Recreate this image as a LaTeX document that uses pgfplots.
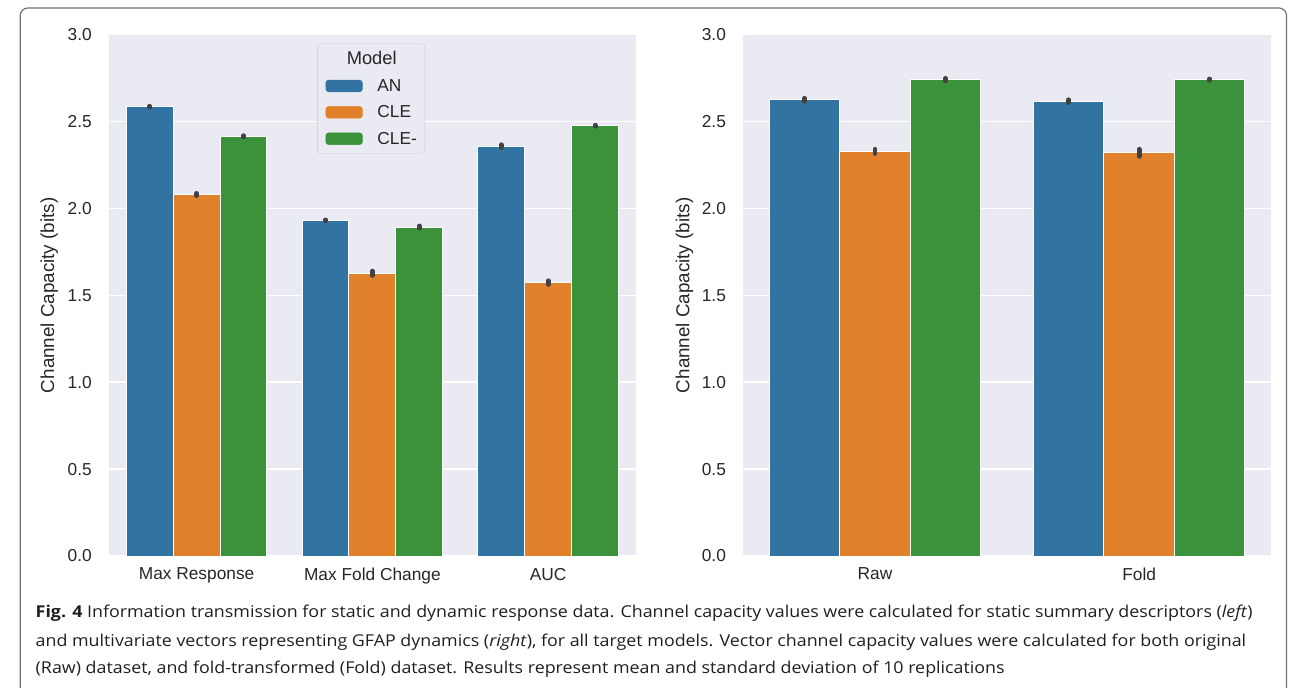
\documentclass[border=0pt]{standalone}
\usepackage{fontspec}
\setmainfont{Liberation Sans}
\newfontfamily\capfont{Open Sans}
\usepackage{graphicx}
\usepackage{pgfplots}
\usepackage{pgfplotstable}
\pgfplotsset{compat=1.18}
\definecolor{sbbg}{HTML}{EAEAF2}
\definecolor{cAN}{HTML}{3274A1}
\definecolor{cCLE}{HTML}{E1812C}
\definecolor{cCLEm}{HTML}{3A923A}
\definecolor{errc}{HTML}{424242}
\definecolor{txt}{HTML}{262626}
\definecolor{framec}{HTML}{707070}

\pgfplotstableread{
x AN ANe CLE CLEe CLEm CLEme
0 2.585 0.002 2.080 0.006 2.415 0.003
1 1.931 0.002 1.627 0.012 1.893 0.006
2 2.358 0.008 1.573 0.010 2.476 0.002
}\leftdata
\pgfplotstableread{
x AN ANe CLE CLEe CLEm CLEme
0 2.625 0.008 2.328 0.012 2.741 0.007
1 2.617 0.008 2.320 0.020 2.741 0.003
}\rightdata

\pgfplotsset{
 sb/.style={
  scale only axis, height=527pt,
  ymin=0, ymax=3, ytick={0,0.5,1,1.5,2,2.5,3},
  tick label style={font=\fontsize{17.5}{20}\selectfont, text=txt},
  yticklabel style={/pgf/number format/fixed, /pgf/number format/fixed zerofill,
     /pgf/number format/precision=1, /pgf/number format/assume math mode=true,
     inner sep=0pt, anchor=east, xshift=-17pt},
  xticklabel style={inner sep=0pt, anchor=north, yshift=-12pt},
  axis background/.style={fill=sbbg},
  axis line style={draw=none},
  major tick length=0pt,
  ymajorgrids, xmajorgrids=false,
  grid style={white, line width=1.6pt},
  label style={font=\fontsize{19}{22}\selectfont, text=txt},
  ylabel={Channel Capacity (bits)},
  clip=false,
 },
 sbbar/.style={ybar, bar width=0.2667, bar shift=0pt, fill=#1, draw=white, line width=1pt},
 sberr/.style={error bars/.cd, y dir=both, y explicit, error mark=none,
   error bar style={line width=5pt, line cap=round, draw=errc, solid}},
}

\begin{document}
\newsavebox\capA\newsavebox\capB\newsavebox\capC
\sbox\capA{\capfont\fontsize{16.5}{20}\selectfont\color{black!88}\textbf{Fig. 4} Information transmission for static and dynamic response data. Channel capacity values were calculated for static summary descriptors (\textit{left})}
\sbox\capB{\capfont\fontsize{16.5}{20}\selectfont\color{black!88}and multivariate vectors representing GFAP dynamics (\textit{right}), for all target models. Vector channel capacity values were calculated for both original}
\sbox\capC{\capfont\fontsize{16.5}{20}\selectfont\color{black!88}(Raw) dataset, and fold-transformed (Fold) dataset. Results represent mean and standard deviation of 10 replications}
\newlength\capw\setlength\capw{\wd\capA}
\pgfmathsetmacro\capsx{1230/\capw}
\begin{tikzpicture}
\useasboundingbox (0,0) rectangle (1290pt,-695pt);
\draw[framec, line width=1.2pt, rounded corners=8pt] (6.5pt,-700pt) -- (6.5pt,-8pt) -- (1286.5pt,-8pt) -- (1286.5pt,-700pt);

\begin{axis}[sb, width=533pt, at={(96pt,-562pt)}, anchor=south west,
  xmin=-0.5, xmax=2.5, xtick={0,1,2},
  xticklabels={Max Response, Max Fold Change, AUC},
  ylabel style={at={(axis description cs:-0.1126,0.5)}, anchor=center},
  legend style={at={(axis description cs:0.3959,0.9829)}, anchor=north west,
    fill=sbbg, draw=black!20, rounded corners=3pt,
    inner xsep=8pt, inner ysep=8pt, row sep=13pt, column sep=15pt,
    nodes={inner sep=0pt, text=txt}, font=\fontsize{17.5}{20}\selectfont},
  legend cell align=left,
]
\addlegendimage{empty legend}
\addlegendentry{\hspace*{-31pt}\fontsize{18.5}{20}\selectfont Model}
\addlegendimage{legend image code/.code={\fill[cAN] (0pt,-6pt) rectangle (37pt,6pt);}}
\addlegendentry{AN}
\addlegendimage{legend image code/.code={\fill[cCLE] (0pt,-6pt) rectangle (37pt,6pt);}}
\addlegendentry{CLE}
\addlegendimage{legend image code/.code={\fill[cCLEm] (0pt,-6pt) rectangle (37pt,6pt);}}
\addlegendentry{CLE-}
\addplot[sbbar=cAN, sberr] table[x expr=\thisrow{x}-0.2667, y=AN, y error=ANe] {\leftdata};
\addplot[sbbar=cCLE, sberr] table[x=x, y=CLE, y error=CLEe] {\leftdata};
\addplot[sbbar=cCLEm, sberr] table[x expr=\thisrow{x}+0.2667, y=CLEm, y error=CLEme] {\leftdata};
\end{axis}

\begin{axis}[sb, width=534pt, at={(737pt,-562pt)}, anchor=south west,
  xmin=-0.5, xmax=1.5, xtick={0,1},
  xticklabels={Raw, Fold},
  ylabel style={at={(axis description cs:-0.1105,0.5)}, anchor=center},
]
\addplot[sbbar=cAN, sberr] table[x expr=\thisrow{x}-0.2667, y=AN, y error=ANe] {\rightdata};
\addplot[sbbar=cCLE, sberr] table[x=x, y=CLE, y error=CLEe] {\rightdata};
\addplot[sbbar=cCLEm, sberr] table[x expr=\thisrow{x}+0.2667, y=CLEm, y error=CLEme] {\rightdata};
\end{axis}

\node[anchor=base west, inner sep=0pt] at (22pt,-624pt) {\scalebox{\capsx}[1]{\usebox\capA}};
\node[anchor=base west, inner sep=0pt] at (22pt,-653pt) {\scalebox{\capsx}[1]{\usebox\capB}};
\node[anchor=base west, inner sep=0pt] at (22pt,-681pt) {\scalebox{\capsx}[1]{\usebox\capC}};
\end{tikzpicture}
\end{document}
